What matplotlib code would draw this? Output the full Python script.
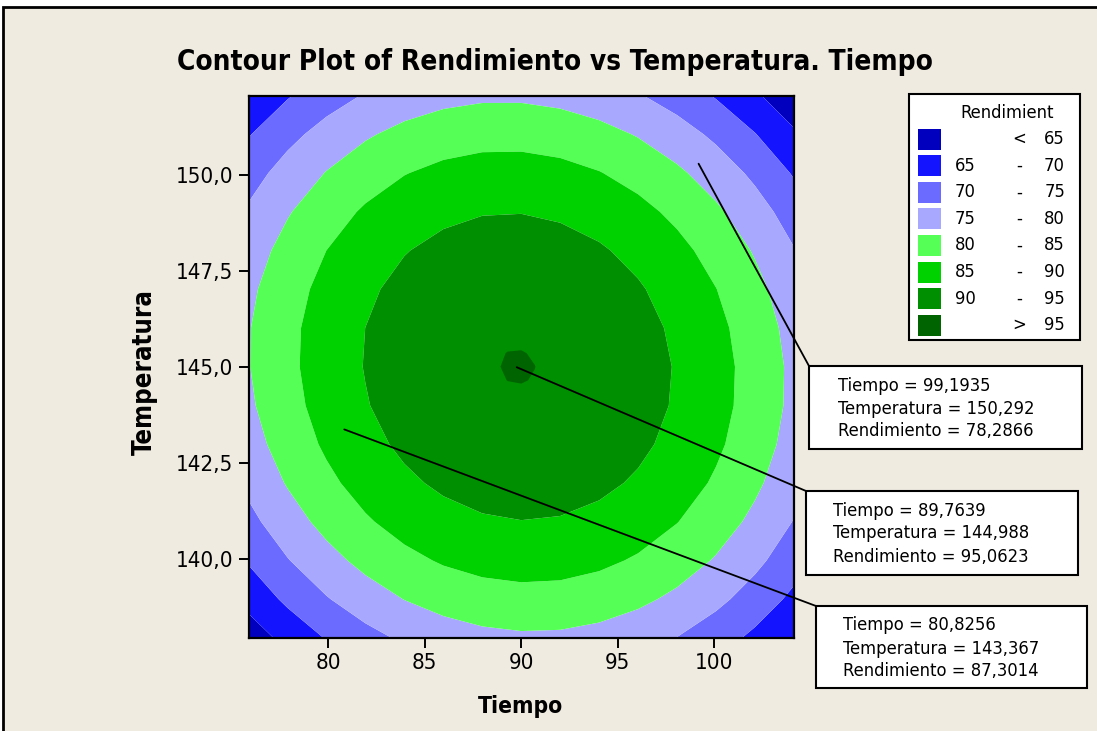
import numpy as np
import matplotlib
matplotlib.use("Agg")
import matplotlib.pyplot as plt
from matplotlib.patches import Rectangle, ConnectionPatch

plt.rcParams['font.family'] = ['DejaVu Sans']
plt.rcParams['font.stretch'] = 'condensed'

# ---------------- data ----------------
tiempo_range = (75.86, 104.14)
temperatura_range = (137.93, 152.07)
# fitted response surface (coefficients estimated from the drawn contours)
peak_rend = 95.07
peak_tiempo = 89.8
peak_temp = 145.0
coef_tt = 0.0785     # Tiempo^2
coef_pp = 0.317      # Temperatura^2
coef_tp = 0.018      # cross term
mesh_points = 15       # coarse mesh (faceted contours)
mesh_points_fine = 41  # finer mesh for the small top band

levels = [65, 70, 75, 80, 85, 90, 95]
band_colors = ['#0000BE', '#1414FF', '#6B6BFF', '#A8A8FF',
               '#55FF55', '#00D200', '#008F00', '#006400']
legend_title = 'Rendimient'
legend_low = ['', '65', '70', '75', '80', '85', '90', '']
legend_sep = ['<', '-', '-', '-', '-', '-', '-', '>']
legend_high = ['65', '70', '75', '80', '85', '90', '95', '95']

x_ticks = [80, 85, 90, 95, 100]
y_ticks = [140.0, 142.5, 145.0, 147.5, 150.0]

ann_tiempo = [99.1935, 89.7639, 80.8256]
ann_temperatura = [150.292, 144.988, 143.367]
ann_rendimiento = [78.2866, 95.0623, 87.3014]

title = 'Contour Plot of Rendimiento vs Temperatura. Tiempo'
x_label = 'Tiempo'
y_label = 'Temperatura'

# ---------------- layout helpers ----------------
W, H = 1097, 731
BG = '#EFEBE1'
def fx(px):
    return px / W
def fy(py):
    return 1 - py / H

fig = plt.figure(figsize=(W / 100, H / 100), dpi=100)
fig.patch.set_facecolor('white')
fig.add_artist(Rectangle((fx(3), fy(H + 5)), 1.2, (H + 5 - 7) / H,
                         transform=fig.transFigure, facecolor=BG,
                         edgecolor='black', lw=2, zorder=-10))

ax = fig.add_axes([fx(248.5), fy(638), (794 - 248.5) / W, (638 - 95.5) / H])

def surface(n):
    gx = np.linspace(tiempo_range[0], tiempo_range[1], n)
    gy = np.linspace(temperatura_range[0], temperatura_range[1], n)
    XX, YY = np.meshgrid(gx, gy)
    U = XX - peak_tiempo
    V = YY - peak_temp
    return XX, YY, peak_rend - coef_tt * U ** 2 - coef_pp * V ** 2 - coef_tp * U * V

XX, YY, Z = surface(mesh_points)
lo = min(Z.min(), levels[0]) - 1
hi = peak_rend + 1
ax.contourf(XX, YY, Z, levels=[lo] + levels[:-1] + [hi],
            colors=band_colors[:-1], antialiased=True)
XF, YF, ZF = surface(mesh_points_fine)
ax.contourf(XF, YF, ZF, levels=[levels[-1], hi], colors=[band_colors[-1]],
            antialiased=True)

ax.set_xlim(*tiempo_range)
ax.set_ylim(*temperatura_range)
ax.set_xticks(x_ticks)
ax.set_xticklabels([f'{v:g}' for v in x_ticks])
ax.set_yticks(y_ticks)
ax.set_yticklabels([f'{v:.1f}'.replace('.', ',') for v in y_ticks])
for s in ax.spines.values():
    s.set_linewidth(1.6)
ax.tick_params(direction='out', length=7, width=1.4, pad=4, colors='black')

renderer = fig.canvas.get_renderer()
def fit(t, target):
    w = t.get_window_extent(renderer).width
    t.set_fontsize(t.get_fontsize() * target / w)

# tick label size
probe = fig.text(0, 0, '150,0', fontsize=16)
w = probe.get_window_extent(renderer).width
tick_size = 16 * 57.7 / w
probe.remove()
ax.tick_params(labelsize=tick_size)

# title and axis labels
t_title = fig.text(fx(555), fy(69.5), title, fontsize=20, fontweight='bold',
                   ha='center', va='baseline')
fit(t_title, 755)
t_xl = fig.text(fx(520), fy(713), x_label, fontsize=17, fontweight='bold',
                ha='center', va='baseline')
fit(t_xl, 85)
t_yl = fig.text(fx(145), fy(372), y_label, fontsize=17, fontweight='bold',
                ha='center', va='center', rotation=90)
wy = t_yl.get_window_extent(renderer).height
t_yl.set_fontsize(t_yl.get_fontsize() * 165 / wy)

# legend box
fig.add_artist(Rectangle((fx(909), fy(340)), (1080 - 909) / W, (340 - 94) / H,
                         transform=fig.transFigure, facecolor='white',
                         edgecolor='black', lw=1.5, zorder=5))
t_lt = fig.text(fx(1007), fy(113), legend_title, fontsize=13, ha='center',
                va='center', zorder=6)
fit(t_lt, 94)
leg_size = t_lt.get_fontsize()
for i, c in enumerate(band_colors):
    yc = 139.3 + 26.55 * i
    fig.add_artist(Rectangle((fx(918), fy(yc + 10.5)), 23 / W, 21 / H,
                             transform=fig.transFigure, facecolor=c,
                             edgecolor='none', zorder=6))
    fig.text(fx(955), fy(yc), legend_low[i], fontsize=leg_size, ha='left',
             va='center', zorder=6)
    fig.text(fx(1019), fy(yc), legend_sep[i], fontsize=leg_size, ha='center',
             va='center', zorder=6)
    fig.text(fx(1065), fy(yc), legend_high[i], fontsize=leg_size, ha='right',
             va='center', zorder=6)

# annotation boxes (crosshair read-outs)
boxes = [(809, 366, 1082, 449, 838), (806, 491, 1078, 575, 833),
         (816, 606, 1087, 688, 843)]
ann_size = None
for k in range(3):
    x0, y0, x1, y1, tx = boxes[k]
    con = ConnectionPatch(xyA=(ann_tiempo[k], ann_temperatura[k]), coordsA=ax.transData,
                          xyB=(fx(x0), fy(y0)), coordsB=fig.transFigure,
                          color='black', lw=1.3, zorder=4)
    con.set_clip_on(False)
    fig.add_artist(con)
    fig.add_artist(Rectangle((fx(x0), fy(y1)), (x1 - x0) / W, (y1 - y0) / H,
                             transform=fig.transFigure, facecolor='white',
                             edgecolor='black', lw=1.5, zorder=5))
    lines = [f'Tiempo = {ann_tiempo[k]:.4f}'.replace('.', ','),
             f'Temperatura = {ann_temperatura[k]:.3f}'.replace('.', ','),
             f'Rendimiento = {ann_rendimiento[k]:.4f}'.replace('.', ',')]
    if ann_size is None:
        probe = fig.text(0, 0, lines[1], fontsize=12.5)
        ann_size = 12.5 * 196 / probe.get_window_extent(renderer).width
        probe.remove()
    for j, s in enumerate(lines):
        fig.text(fx(tx), fy(y0 + 19.5 + 23 * j), s, fontsize=ann_size,
                 ha='left', va='center', zorder=6)

fig.savefig('out.png', dpi=100, facecolor=fig.get_facecolor())
